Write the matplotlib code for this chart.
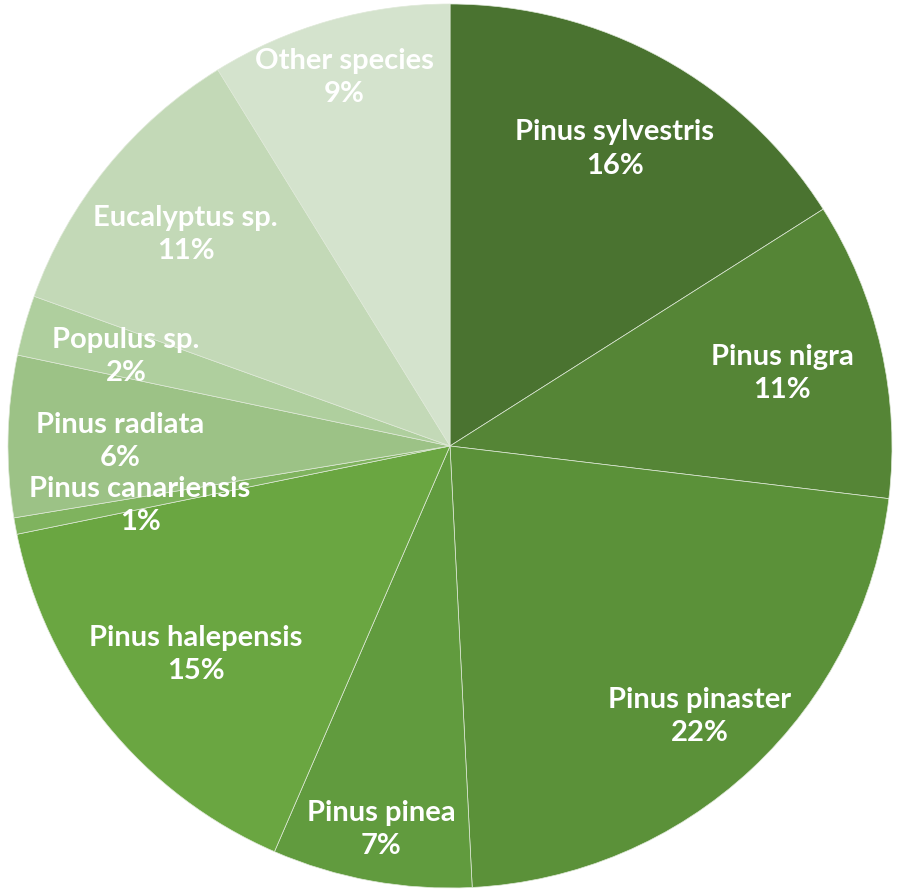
import numpy as np
import matplotlib
matplotlib.use('Agg')
import matplotlib.pyplot as plt

# share of each species (%), clockwise from 12 o'clock
species = ['Pinus sylvestris', 'Pinus nigra', 'Pinus pinaster', 'Pinus pinea',
           'Pinus halepensis', 'Pinus canariensis', 'Pinus radiata',
           'Populus sp.', 'Eucalyptus sp.', 'Other species']
shares = [16.0, 10.9, 22.3, 7.3, 15.3, 0.6, 5.9, 2.2, 10.7, 8.8]

colors = ['#4a7330', '#558536', '#5b9139', '#619b3e', '#6aa641',
          '#7fb35e', '#9cc286', '#afcf9e', '#c3d9b7', '#d4e3cd']
# how far out each label sits (fraction of the radius)
label_r = [0.774, 0.771, 0.828, 0.876, 0.74, 0.713, 0.747, 0.762, 0.77, 0.873]

W, H = 897, 894
cx, cy, R = 450, 446, 442

fig = plt.figure(figsize=(W / 100, H / 100), dpi=100)
ax = fig.add_axes([0, 0, 1, 1])
wedges, _ = ax.pie(shares, colors=colors, startangle=90, counterclock=False,
                   radius=1, wedgeprops=dict(edgecolor='#dfe9d8', linewidth=0.5))
ax.set_xlim(-cx / R, (W - cx) / R)
ax.set_ylim(-(H - cy) / R, cy / R)
ax.set_aspect('auto')
ax.axis('off')

for w, name, val, r in zip(wedges, species, shares, label_r):
    mid = np.deg2rad((w.theta1 + w.theta2) / 2)
    ax.text(r * np.cos(mid), r * np.sin(mid) - 0.006, '%s\n%d%%' % (name, round(val)),
            ha='center', va='center', color='white', fontsize=21,
            fontweight='bold', family='Lato', linespacing=1.35)

fig.savefig('out.png', dpi=100)
